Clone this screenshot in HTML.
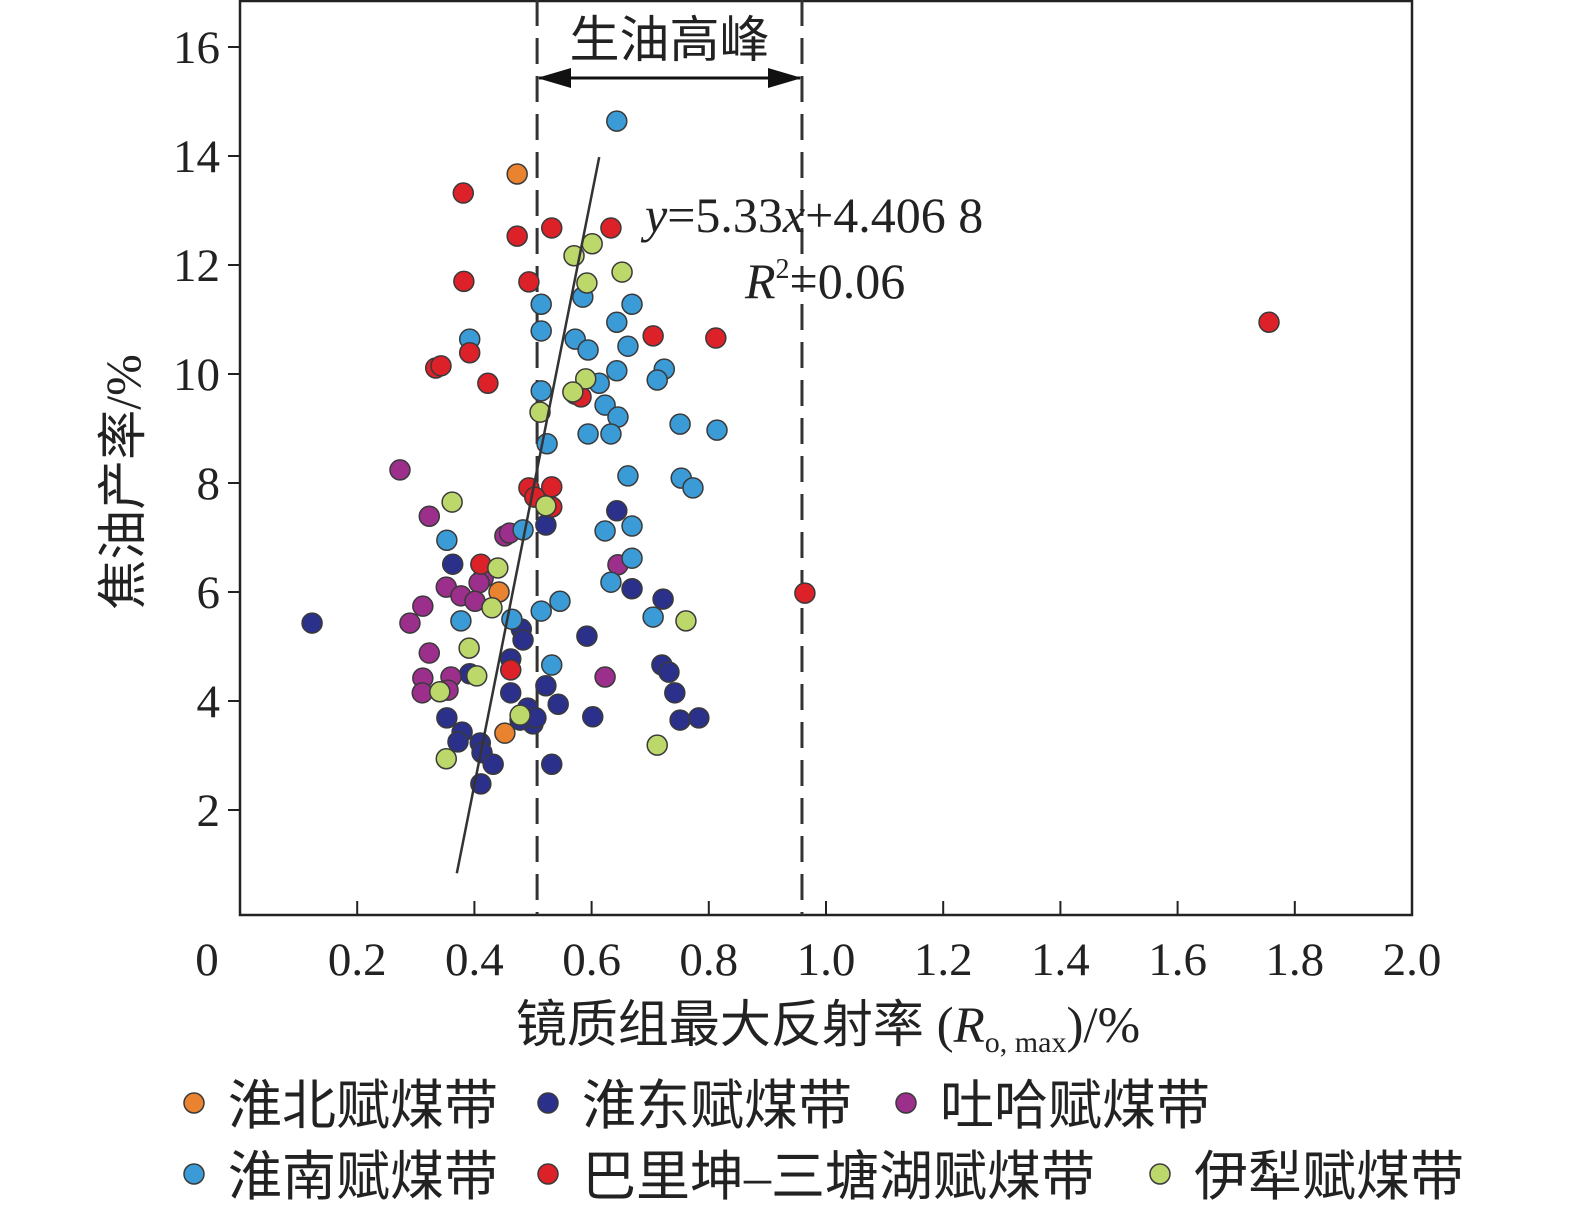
<!DOCTYPE html>
<html><head><meta charset="utf-8"><style>
html,body{margin:0;padding:0;background:#fff;overflow:hidden}
svg{display:block}
svg text{font-family:"Liberation Serif","Noto Serif CJK SC",serif;fill:#222}
.cj{font-family:"Liberation Serif","Noto Sans CJK SC",sans-serif}
</style></head><body>
<svg id="c" width="1575" height="1215" xmlns="http://www.w3.org/2000/svg">
<defs><marker id="ah" markerUnits="userSpaceOnUse" markerWidth="34" markerHeight="20" refX="32" refY="10" orient="auto-start-reverse"><path d="M0,0 L34,10 L0,20 z" fill="#111"/></marker></defs>
<g id="plot"></g>
</svg>
<script>
const xTicks=[0,0.2,0.4,0.6,0.8,1.0,1.2,1.4,1.6,1.8,2.0];
const xTickLabels=["0","0.2","0.4","0.6","0.8","1.0","1.2","1.4","1.6","1.8","2.0"];
const yTicks=[2,4,6,8,10,12,14,16];
const seriesNames=["淮北赋煤带","淮东赋煤带","吐哈赋煤带","淮南赋煤带","巴里坤–三塘湖赋煤带","伊犁赋煤带"];
const seriesColors=["#e9832f","#2b318a","#9c2f8c","#3a9bd6","#dc2129","#bcd86b"];
const huaibeiX=[.473,.442,.452];
const huaibeiY=[13.67,6.0,3.41];
const zhundongX=[.123,.363,.522,.643,.669,.722,.592,.480,.483,.462,.392,.522,.462,.543,.353,.602,.751,.783,.720,.732,.742,.379,.372,.410,.413,.432,.411,.491,.500,.478,.532,.505];
const zhundongY=[5.43,6.51,7.23,7.49,6.06,5.87,5.19,5.32,5.12,4.77,4.50,4.28,4.15,3.94,3.69,3.71,3.65,3.69,4.66,4.53,4.15,3.43,3.25,3.23,3.05,2.84,2.48,3.87,3.58,3.65,2.84,3.69];
const tuhaX=[.273,.323,.452,.352,.415,.408,.377,.401,.312,.290,.323,.312,.311,.360,.645,.623,.355,.460];
const tuhaY=[8.24,7.39,7.03,6.09,6.26,6.17,5.93,5.83,5.74,5.43,4.88,4.42,4.15,4.44,6.50,4.44,4.20,7.08];
const huainanX=[.643,.514,.585,.669,.643,.514,.392,.572,.662,.594,.643,.724,.712,.613,.514,.572,.623,.645,.751,.814,.524,.594,.633,.662,.753,.773,.483,.623,.669,.353,.669,.633,.546,.514,.464,.377,.705,.532];
const huainanY=[14.64,11.28,11.41,11.28,10.95,10.79,10.64,10.64,10.51,10.44,10.06,10.09,9.89,9.83,9.69,9.63,9.43,9.21,9.08,8.97,8.72,8.9,8.9,8.13,8.09,7.91,7.14,7.12,7.21,6.95,6.62,6.18,5.83,5.65,5.50,5.47,5.54,4.66];
const balikunX=[.381,.473,.532,.633,.382,.493,.705,.812,.392,.334,.343,.423,.582,.493,.532,.503,.532,.411,.462,.964,1.756];
const balikunY=[13.32,12.53,12.68,12.68,11.7,11.69,10.7,10.66,10.39,10.11,10.15,9.83,9.58,7.91,7.93,7.74,7.56,6.51,4.57,5.98,10.95];
const yiliX=[.601,.570,.652,.592,.590,.568,.512,.522,.362,.440,.430,.761,.391,.404,.341,.478,.352,.712];
const yiliY=[12.39,12.17,11.87,11.67,9.91,9.67,9.30,7.58,7.65,6.44,5.71,5.47,4.97,4.46,4.17,3.74,2.94,3.19];
const fitX=[0.370,0.613];
const fitY=[0.84,13.98];
const peakX=[0.507,0.959];

const L=240,R=1412,T=0,B=915;
const sx=v=>L+v*(R-L)/2;
const sy=v=>919-v*54.5;
const NS="http://www.w3.org/2000/svg";
const g=document.getElementById('plot');
function mk(t,a,txt){const e=document.createElementNS(NS,t);for(const k in a)e.setAttribute(k,a[k]);if(txt!=null)e.textContent=txt;g.appendChild(e);return e;}

const frame=mk('rect',{x:L,y:T+1,width:R-L,height:B-T-1,fill:'none',stroke:'#222','stroke-width':2.5});


xTicks.forEach((v,i)=>{
 if(i>0&&i<xTicks.length-1){const t=mk('line',{x1:sx(v),x2:sx(v),y1:B,y2:B-14,stroke:'#222','stroke-width':2});
 
 }
 const lb=mk('text',{x:i==0?207:sx(v),y:975,'text-anchor':'middle','font-size':47},xTickLabels[i]);
 
 
});
yTicks.forEach(v=>{
 const t=mk('line',{x1:L-12,x2:L,y1:sy(v),y2:sy(v),stroke:'#222','stroke-width':2});
 
 
 const lb=mk('text',{x:220,y:sy(v)+16,'text-anchor':'end','font-size':47},String(v));
 
 
});
peakX.forEach(v=>{
 const d=mk('line',{x1:sx(v),x2:sx(v),y1:0,y2:B,stroke:'#333','stroke-width':3,'stroke-dasharray':'26,12'});
 
 
});
const ar=mk('line',{x1:sx(peakX[0])+2,x2:sx(peakX[1])-2,y1:78,y2:78,stroke:'#111','stroke-width':3,'marker-start':'url(#ah)','marker-end':'url(#ah)'});


const pk=mk('text',{x:(sx(peakX[0])+sx(peakX[1]))/2,y:57,'text-anchor':'middle','font-size':50,class:'cj'},'生油高峰');



const all=[[huaibeiX,huaibeiY],[zhundongX,zhundongY],[tuhaX,tuhaY],[huainanX,huainanY],[balikunX,balikunY],[yiliX,yiliY]];
all.forEach((s,si)=>{
 s[0].forEach((x,i)=>{
  const c=mk('circle',{cx:sx(x),cy:sy(s[1][i]),r:10,fill:seriesColors[si],stroke:'#3a3a3a','stroke-width':1.5});
  
  
 });
});
const fl=mk('line',{x1:sx(fitX[0]),y1:sy(fitY[0]),x2:sx(fitX[1]),y2:sy(fitY[1]),stroke:'#333','stroke-width':2.5});


const eq=mk('text',{x:645,y:232,'font-size':50});
eq.innerHTML='<tspan font-style="italic">y</tspan>=5.33<tspan font-style="italic">x</tspan>+4.406 8';


const r2=mk('text',{x:745,y:298,'font-size':50});
r2.innerHTML='<tspan font-style="italic">R</tspan><tspan font-size="28" dy="-20">2</tspan><tspan dy="20">=0.06</tspan>';


const yt=mk('text',{x:0,y:0,'font-size':50,'text-anchor':'middle',class:'cj',transform:'translate(140,482) rotate(-90)'},'焦油产率/%');


const xt=mk('text',{x:828,y:1042,'font-size':51,'text-anchor':'middle',class:'cj'});
xt.innerHTML='镜质组最大反射率 (<tspan font-style="italic">R</tspan><tspan font-size="30" dy="10">o, max</tspan><tspan dy="-10">)/%</tspan>';


const lx=[194,548,906,194,548,1160],ly=[1105,1105,1105,1176,1176,1176];
seriesNames.forEach((n,i)=>{
 const c=mk('circle',{cx:lx[i],cy:ly[i]-2,r:10,fill:seriesColors[i],stroke:'#3a3a3a','stroke-width':1.5});
 
 
 const t=mk('text',{x:lx[i]+34,y:ly[i]+19,'font-size':54,class:'cj'},n);
 
 
});
</script>
</body></html>
